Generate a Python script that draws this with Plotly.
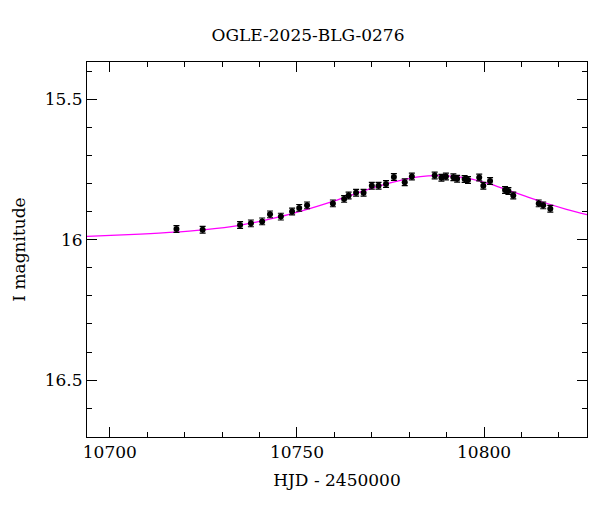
import plotly.graph_objects as go

hjd = [10717.8,10724.8,10734.8,10737.7,10740.7,10742.8,10745.7,10748.7,10750.6,10752.7,
       10759.6,10762.6,10763.8,10765.8,10767.8,10770.0,10771.8,10773.8,10775.9,10778.8,
       10780.7,10786.8,10788.6,10789.8,10791.8,10792.8,10794.8,10795.7,10798.7,10799.8,
       10801.6,10805.6,10806.5,10807.8,10814.6,10815.8,10817.7]
mag = [15.962,15.965,15.948,15.942,15.935,15.910,15.918,15.900,15.887,15.878,
       15.871,15.855,15.843,15.833,15.833,15.808,15.808,15.802,15.777,15.796,
       15.775,15.772,15.780,15.775,15.778,15.783,15.784,15.788,15.779,15.808,
       15.791,15.823,15.827,15.843,15.871,15.878,15.890]
err = [0.012]*len(hjd)

model_t = [10693.9,10705,10715,10725,10735,10745,10752,10760,10767,10773,10778,10783,10787,10791,10796,10801,10806,10811,10816,10822,10827.5]
model_m = [15.988,15.982,15.975,15.965,15.948,15.920,15.895,15.862,15.830,15.805,15.788,15.776,15.772,15.774,15.783,15.800,15.822,15.845,15.868,15.892,15.911]

font = "DejaVu Serif"
fig = go.Figure()
fig.add_trace(go.Scatter(x=model_t, y=model_m, mode="lines", line=dict(color="#ff00ff", width=1.2, shape="spline"), hoverinfo="skip"))
fig.add_trace(go.Scatter(x=hjd, y=mag, mode="markers",
                         marker=dict(color="black", size=6),
                         error_y=dict(type="data", array=err, color="black", thickness=1.2, width=3)))
ax = dict(showgrid=False, zeroline=False, showline=True, linecolor="black", linewidth=1, mirror="ticks",
          ticks="inside", ticklen=10, tickcolor="black",
          tickfont=dict(family=font, size=17, color="black"))
fig.update_layout(
    width=600, height=512, plot_bgcolor="white", paper_bgcolor="white", showlegend=False,
    margin=dict(l=79, r=21, t=54, b=83),
    title=dict(text="OGLE-2025-BLG-0276", x=0.5, xanchor="center", y=0.947, yanchor="middle",
               font=dict(family=font, size=17, color="black")),
    xaxis=dict(ax, range=[10693.9, 10827.5], dtick=50, tickformat="d",
               minor=dict(ticks="inside", ticklen=5, tickcolor="black", dtick=10),
               title=dict(text="HJD - 2450000", font=dict(family=font, size=17, color="black"), standoff=12)),
    yaxis=dict(ax, range=[16.702, 15.368], dtick=0.5, tickformat="~g",
               minor=dict(ticks="inside", ticklen=5, tickcolor="black", dtick=0.1),
               title=dict(text="I magnitude", font=dict(family=font, size=17, color="black"), standoff=14)),
)
fig.write_html("out.html")
